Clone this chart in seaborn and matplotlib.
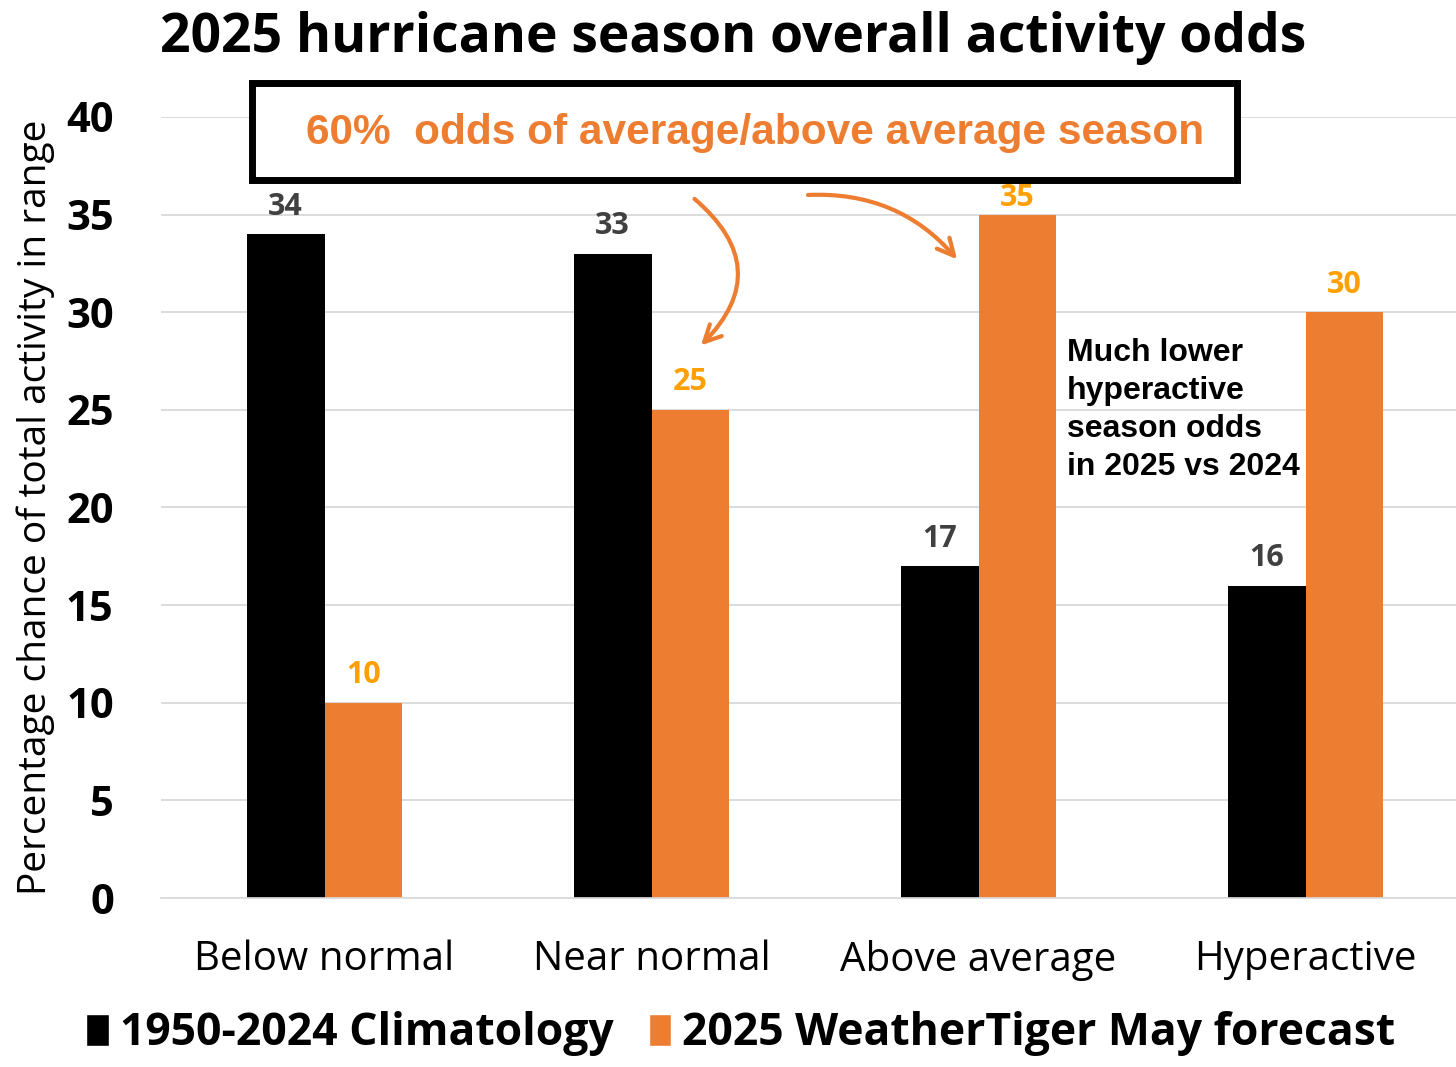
import numpy as np
import pandas as pd
import matplotlib
matplotlib.use("Agg")
import matplotlib.pyplot as plt
import seaborn as sns
from matplotlib.patches import Rectangle, Patch

# data
categories = ["Below normal", "Near normal", "Above average", "Hyperactive"]
climatology = [34, 33, 17, 16]
forecast = [10, 25, 35, 30]
series = ["1950-2024 Climatology", "2025 WeatherTiger May forecast"]
yticks = [0, 5, 10, 15, 20, 25, 30, 35, 40]

black = "#000000"
orange = "#ED7D31"
label_orange = "#FFA000"

df = pd.DataFrame({
    "category": categories * 2,
    "series": [series[0]] * 4 + [series[1]] * 4,
    "value": climatology + forecast,
})

sns.set_theme(style="white")
plt.rcParams["font.family"] = ["Open Sans", "DejaVu Sans"]
plt.rcParams["text.color"] = "black"
plt.rcParams["axes.labelcolor"] = "black"
plt.rcParams["xtick.color"] = "black"
plt.rcParams["ytick.color"] = "black"

fig = plt.figure(figsize=(14.56, 10.67), dpi=100)
ax = fig.add_axes([161 / 1456, 1 - 898 / 1067, 1308 / 1456, (898 - 117) / 1067])

sns.barplot(data=df, x="category", y="value", hue="series", order=categories,
            hue_order=series, palette=[black, orange], width=0.477,
            saturation=1, linewidth=0, ax=ax, legend=False)

ax.set_xlim(-0.5, 3.5)
ax.set_ylim(0, 40)
ax.set_yticks(yticks)
ax.set_yticklabels([str(t) for t in yticks], fontsize=30, fontweight="bold")
ax.tick_params(axis="x", labelsize=29, pad=30, length=0)
ax.tick_params(axis="y", length=0, pad=34)
ax.grid(axis="y", color="#d9d9d9", linewidth=1.3)
ax.set_axisbelow(True)
for s in ["top", "right", "left"]:
    ax.spines[s].set_visible(False)
ax.spines["bottom"].set_color("#d9d9d9")
ax.set_xlabel("")
ax.set_ylabel("Percentage chance of total activity in range", fontsize=28, labelpad=8)

# value labels
ax.bar_label(ax.containers[0], fontsize=22, fontweight="bold", color="#404040", padding=9)
orange_labels = ax.bar_label(ax.containers[1], fontsize=22, fontweight="bold",
                             color=label_orange, padding=9)
# the tallest label sits tight under the callout box
for t, v in zip(orange_labels, forecast):
    if v == max(forecast):
        t.xyann = (0, 1)

fig.text(733 / 1456, 1 - 38 / 1067, "2025 hurricane season overall activity odds", ha="center",
         va="center", fontsize=38.5, fontweight="bold")

# boxed callout
fig.patches.append(Rectangle((252 / 1456, 1 - 180 / 1067), 985 / 1456, 97 / 1067,
                             transform=fig.transFigure, facecolor="white",
                             edgecolor="black", linewidth=5, zorder=5))
fig.text(755 / 1456, 1 - 133 / 1067, "60%  odds of average/above average season",
         ha="center", va="center", fontsize=30.5, fontweight="bold", color=orange,
         family="Liberation Sans", zorder=6)

# arrows from box to bars
ax.annotate("", xy=(1.145, 28.2), xytext=(1.125, 35.9),
            arrowprops=dict(arrowstyle="->,head_length=1.0,head_width=0.5", color=orange,
                            lw=3, connectionstyle="arc3,rad=-0.55"))
ax.annotate("", xy=(1.94, 32.6), xytext=(1.47, 36.0),
            arrowprops=dict(arrowstyle="->,head_length=1.0,head_width=0.5", color=orange,
                            lw=3, connectionstyle="arc3,rad=-0.25"))

ax.text(2.27, 28.7, "Much lower\nhyperactive\nseason odds\nin 2025 vs 2024",
        ha="left", va="top", fontsize=23, fontweight="bold", family="Liberation Sans",
        linespacing=1.36)

handles = [Patch(facecolor=black), Patch(facecolor=orange)]
fig.legend(handles, series, loc="center", bbox_to_anchor=(741 / 1456, 1 - 1034 / 1067), ncol=2,
           frameon=False, prop=dict(family="Open Sans", weight="bold", size=32),
           handlelength=0.5, handleheight=0.7, handletextpad=0.25, columnspacing=0.8)

fig.savefig("out.png", dpi=100)
